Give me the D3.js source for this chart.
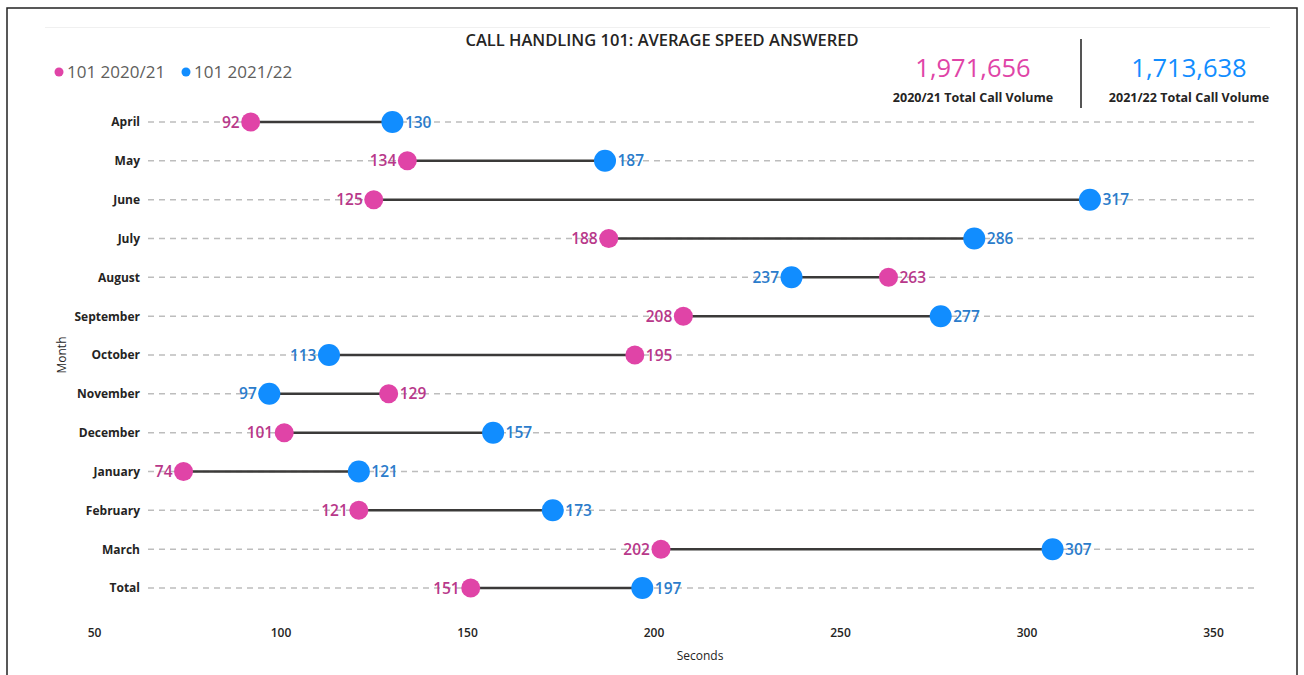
<!DOCTYPE html>
<html>
<head>
<meta charset="utf-8">
<script src="https://cdn.jsdelivr.net/npm/d3@7"></script>
<style>
  body { margin: 0; background: #fff; }
  svg { display: block; font-family: "Open Sans", "Noto Sans", sans-serif; }
</style>
</head>
<body>
<svg width="1304" height="675"></svg>
<script>
// data
const months = ["April", "May", "June", "July", "August", "September", "October",
                "November", "December", "January", "February", "March", "Total"];
const asa2021 = [92, 134, 125, 188, 263, 208, 195, 129, 101, 74, 121, 202, 151];
const asa2122 = [130, 187, 317, 286, 237, 277, 113, 97, 157, 121, 173, 307, 197];
const xTicks = [50, 100, 150, 200, 250, 300, 350];
const seriesNames = ["101 2020/21", "101 2021/22"];
const totals = [1971656, 1713638];
const totalLabels = ["2020/21 Total Call Volume", "2021/22 Total Call Volume"];

const pink = "#E044A7", blue = "#118DFF";
const pinkText = "#B8388A", blueText = "#2B7CCB";

let svg = d3.select("svg");

// frame
svg.append("rect").attr("x", 7).attr("y", 8).attr("width", 1290).attr("height", 680)
   .attr("fill", "none").attr("stroke", "#222").attr("stroke-width", 1.5);
svg.append("line").attr("x1", 45).attr("x2", 1270).attr("y1", 27.5).attr("y2", 27.5)
   .attr("stroke", "#f0f0f0");

// scales
let x = d3.scaleLinear().domain([50, 350]).range([94, 1213]);
let y = d3.scalePoint().domain(months).range([122, 588]);

// title
svg.append("text").attr("x", 662).attr("y", 46).attr("text-anchor", "middle")
   .attr("font-size", 16.5).attr("font-weight", 600).attr("fill", "#252423")
   .text("CALL HANDLING 101: AVERAGE SPEED ANSWERED");

// legend
let legend = svg.append("g");
[[59, 0], [186, 1]].forEach(([lx, i]) => {
    legend.append("circle").attr("cx", lx).attr("cy", 72).attr("r", 4.5).attr("fill", i ? blue : pink);
    legend.append("text").attr("x", lx + 8).attr("y", 78).attr("font-size", 17)
          .attr("fill", "#605E5C").text(seriesNames[i]);
});

// KPI cards
let fmt = d3.format(",");
[[973, 0], [1189, 1]].forEach(([cx, i]) => {
    svg.append("text").attr("x", cx).attr("y", 77).attr("text-anchor", "middle")
       .attr("font-size", 25.5).attr("fill", i ? blue : pink).text(fmt(totals[i]));
    svg.append("text").attr("x", cx).attr("y", 102).attr("text-anchor", "middle")
       .attr("font-size", 12.5).attr("font-weight", "bold").attr("fill", "#252423").text(totalLabels[i]);
});
svg.append("line").attr("x1", 1081).attr("x2", 1081).attr("y1", 39).attr("y2", 108)
   .attr("stroke", "#555").attr("stroke-width", 2);

// x axis
let xAxis = svg.append("g").attr("transform", "translate(0,628)")
    .call(d3.axisBottom(x).tickValues(xTicks).tickSize(0).tickPadding(0));
xAxis.select(".domain").remove();
xAxis.selectAll("text").attr("font-size", 12).attr("font-weight", 600).attr("fill", "#252423")
     .attr("font-family", "Open Sans, sans-serif").attr("dy", "0.71em");
svg.append("text").attr("x", 700).attr("y", 660).attr("text-anchor", "middle")
   .attr("font-size", 12).attr("fill", "#252423").text("Seconds");

// y axis
let yAxis = svg.append("g").attr("transform", "translate(140,0)")
    .call(d3.axisLeft(y).tickSize(0).tickPadding(0));
yAxis.select(".domain").remove();
yAxis.selectAll("text").attr("font-size", 12).attr("font-weight", "bold")
     .attr("fill", "#252423").attr("font-family", "Open Sans, sans-serif");
svg.append("text").attr("transform", "translate(66,355) rotate(-90)").attr("text-anchor", "middle")
   .attr("font-size", 12).attr("fill", "#252423").text("Month");

// grid
svg.append("g").selectAll("line").data(months).enter().append("line")
   .attr("x1", 148).attr("x2", 1255)
   .attr("y1", d => y(d)).attr("y2", d => y(d))
   .attr("stroke", "#bdbdbd").attr("stroke-width", 1.5).attr("stroke-dasharray", "6,5");

let rows = months.map((m, i) => ({ m: m, a: asa2021[i], b: asa2122[i] }));

// connectors
svg.append("g").selectAll("line").data(rows).enter().append("line")
   .attr("x1", d => x(d.a)).attr("x2", d => x(d.b))
   .attr("y1", d => y(d.m)).attr("y2", d => y(d.m))
   .attr("stroke", "#3b3a39").attr("stroke-width", 2.5);

// dots
let dots = svg.append("g");
dots.selectAll(".p").data(rows).enter().append("circle")
    .attr("cx", d => x(d.a)).attr("cy", d => y(d.m)).attr("r", 9.5).attr("fill", pink);
dots.selectAll(".b").data(rows).enter().append("circle")
    .attr("cx", d => x(d.b)).attr("cy", d => y(d.m)).attr("r", 11).attr("fill", blue);

// value labels: smaller value on left, larger on right
let labels = svg.append("g").attr("font-size", 15.5).attr("font-weight", 600);
rows.forEach(d => {
    [[d.a, pinkText, 10], [d.b, blueText, 11.5]].forEach(([v, c, r]) => {
        let other = v === d.a ? d.b : d.a;
        let left = v < other;
        labels.append("text")
            .attr("x", x(v) + (left ? -(r + 1) : (r + 1)))
            .attr("y", y(d.m)).attr("dy", "0.36em")
            .attr("text-anchor", left ? "end" : "start")
            .attr("fill", c).text(v);
    });
});
</script>
</body>
</html>
